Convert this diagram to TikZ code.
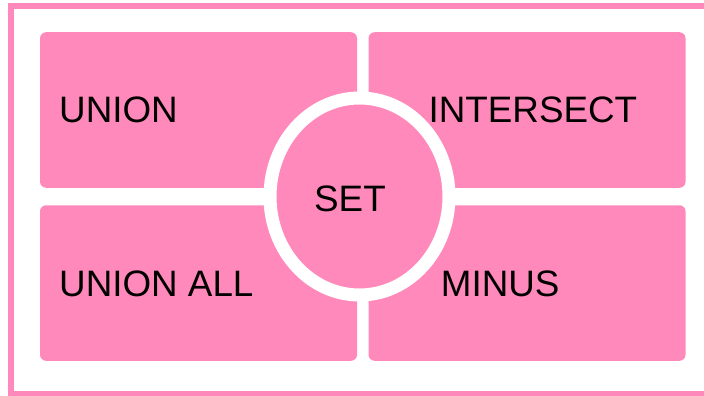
\documentclass[tikz,border=0pt]{standalone}
\usepackage{fontspec}
\setmainfont{Liberation Sans}
\usetikzlibrary{shapes.geometric}
\definecolor{setpink}{RGB}{255,137,186}
\tikzset{
  box/.style={rectangle, rounded corners=6pt, fill=setpink, draw=none, inner sep=0pt, minimum width=317pt, minimum height=155.5pt},
  lbl/.style={anchor=base west, inner sep=0pt, font=\fontsize{36.8}{44}\selectfont, text=black},
  hub/.style={ellipse, fill=setpink, draw=white, line width=13pt, inner sep=0pt, minimum width=179pt, minimum height=197pt},
  frame/.style={draw=setpink, line width=5.8pt, fill=none}
}
\begin{document}
\begin{tikzpicture}[x=1pt,y=-1pt]
\useasboundingbox (0,0) rectangle (704,396);
\fill[white] (0,0) rectangle (704,396);
\draw[frame] (11,5.8) rectangle (712,394);
\node[box] (tl) at (198.5,110) {};
\node[box] (tr) at (527,110) {};
\node[box] (bl) at (198.5,283) {};
\node[box] (br) at (527,283) {};
\node[hub] (set) at (359.5,196.5) {};
\node[lbl] (union) at (59,122.3) {UNION};
\node[lbl] (intersect) at (428.4,122.3) {INTERSECT};
\node[lbl] (unionall) at (59,296.7) {UNION ALL};
\node[lbl] (minus) at (440.7,296.7) {MINUS};
\node[lbl] (settext) at (314,211) {SET};
\end{tikzpicture}
\end{document}
